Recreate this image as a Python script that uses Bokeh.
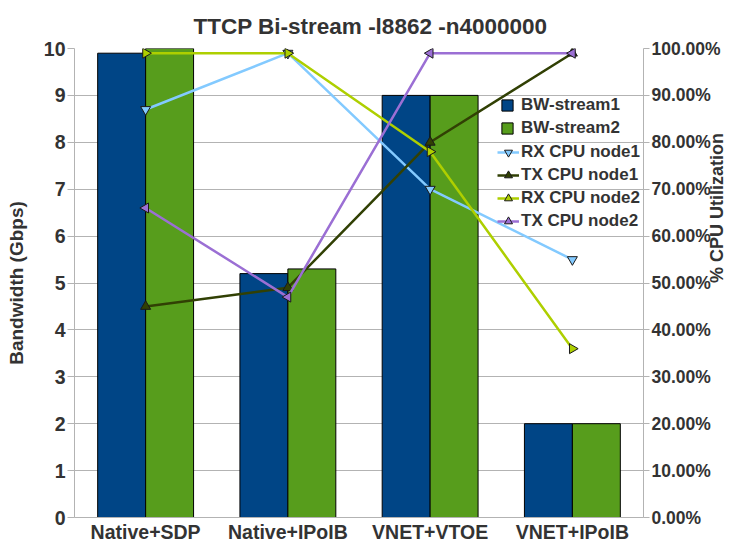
import math
from bokeh.plotting import figure
from bokeh.models import (Range1d, FactorRange, LinearAxis, SingleIntervalTicker,
                          PrintfTickFormatter, Legend, LegendItem, ColumnDataSource)
from bokeh.transform import dodge
from bokeh.embed import file_html
from bokeh.resources import INLINE

categories = ["Native+SDP", "Native+IPoIB", "VNET+VTOE", "VNET+IPoIB"]
bw_stream1 = [9.9, 5.2, 9.0, 2.0]
bw_stream2 = [10.0, 5.3, 9.0, 2.0]
rx_cpu_node1 = [87, 99, 70, 55]
tx_cpu_node1 = [45, 49, 80, 99]
rx_cpu_node2 = [99, 99, 78, 36]
tx_cpu_node2 = [66, 47, 99, 99]

TXT = "#333333"
GRID = "#b3b3b3"
FONT = "Liberation Sans"

src = ColumnDataSource(dict(cat=categories, bw1=bw_stream1, bw2=bw_stream2,
                            rx1=rx_cpu_node1, tx1=tx_cpu_node1,
                            rx2=rx_cpu_node2, tx2=tx_cpu_node2))

p = figure(width=739, height=546,
           x_range=FactorRange(*categories, range_padding=0),
           y_range=Range1d(0, 10),
           output_backend="svg", toolbar_location=None,
           min_border_left=74, min_border_right=89, min_border_top=48, min_border_bottom=29,
           title="TTCP Bi-stream -l8862 -n4000000")
p.outline_line_color = None
p.background_fill_color = "white"
p.border_fill_color = "white"

p.title.text_font = FONT
p.title.text_font_size = "22.5px"
p.title.text_font_style = "bold"
p.title.text_color = TXT
p.title.align = "left"
p.title.offset = 119
p.title.standoff = 20

p.extra_y_ranges = {"cpu": Range1d(0, 100)}

# grid
p.xgrid.grid_line_color = None
p.ygrid.grid_line_color = GRID
p.ygrid.grid_line_width = 1

# left axis
ya = p.yaxis[0]
ya.ticker = SingleIntervalTicker(interval=1)
ya.axis_label = "Bandwidth (Gbps)"
ya.axis_label_text_font = FONT
ya.axis_label_text_font_size = "19px"
ya.axis_label_text_font_style = "bold"
ya.axis_label_text_color = TXT
ya.axis_label_standoff = 14
ya.major_label_text_font = FONT
ya.major_label_text_font_size = "19.5px"
ya.major_label_text_font_style = "bold"
ya.major_label_text_color = TXT
ya.major_label_standoff = 2
ya.axis_line_color = GRID
ya.major_tick_line_color = GRID
ya.major_tick_out = 7
ya.major_tick_in = 0
ya.minor_tick_line_color = None

# x axis
xa = p.xaxis[0]
xa.major_label_text_font = FONT
xa.major_label_text_font_size = "19.5px"
xa.major_label_text_font_style = "bold"
xa.major_label_text_color = TXT
xa.major_label_standoff = 3
xa.axis_line_color = GRID
xa.major_tick_line_color = None
xa.major_tick_out = 0
xa.minor_tick_line_color = None

# right axis
ra = LinearAxis(y_range_name="cpu", ticker=SingleIntervalTicker(interval=10),
                formatter=PrintfTickFormatter(format="%.2f%%"))
ra.axis_label = "% CPU Utilization"
ra.axis_label_text_font = FONT
ra.axis_label_text_font_size = "18px"
ra.axis_label_text_font_style = "bold"
ra.axis_label_text_color = TXT
ra.axis_label_standoff = -7
try:
    ra.axis_label_orientation = math.pi / 2
except Exception:
    pass
ra.major_label_text_font = FONT
ra.major_label_text_font_size = "17.5px"
ra.major_label_text_font_style = "bold"
ra.major_label_text_color = TXT
ra.major_label_standoff = 2
ra.axis_line_color = GRID
ra.major_tick_line_color = GRID
ra.major_tick_out = 6
ra.major_tick_in = 0
ra.minor_tick_line_color = None
p.add_layout(ra, "right")

# bars
bw = 0.337
b1 = p.vbar(x=dodge("cat", -bw / 2, range=p.x_range), top="bw1", width=bw, source=src,
            fill_color="#004586", line_color="#000000", line_width=1)
b2 = p.vbar(x=dodge("cat", bw / 2, range=p.x_range), top="bw2", width=bw, source=src,
            fill_color="#579d1c", line_color="#000000", line_width=1)

series = [
    ("RX CPU node1", "rx1", "#83caff", "inverted_triangle", 0.0),
    ("TX CPU node1", "tx1", "#314004", "triangle", 0.0),
    ("RX CPU node2", "rx2", "#aecf00", "triangle", -math.pi / 2),
    ("TX CPU node2", "tx2", "#9b6fd4", "triangle", math.pi / 2),
]
line_items = []
for label, col, color, marker, ang in series:
    lr = p.line(x="cat", y=col, source=src, y_range_name="cpu",
                line_color=color, line_width=2.5)
    sr = p.scatter(x="cat", y=col, source=src, y_range_name="cpu",
                   marker=marker, angle=ang, size=10,
                   fill_color=color, line_color="#1a1a1a", line_width=1)
    line_items.append(LegendItem(label=label, renderers=[lr, sr]))

leg1 = Legend(items=[LegendItem(label="BW-stream1", renderers=[b1]),
                     LegendItem(label="BW-stream2", renderers=[b2])],
              location=(426, 379), orientation="vertical",
              glyph_width=14, glyph_height=14, label_height=20, spacing=3,
              label_standoff=7, padding=0, margin=0,
              background_fill_alpha=0, border_line_color=None,
              label_text_font=FONT, label_text_font_size="17px",
              label_text_font_style="bold", label_text_color=TXT)
leg2 = Legend(items=line_items,
              location=(423, 286), orientation="vertical",
              glyph_width=22, glyph_height=20, label_height=20, spacing=3,
              label_standoff=2, padding=0, margin=0,
              background_fill_alpha=0, border_line_color=None,
              label_text_font=FONT, label_text_font_size="17px",
              label_text_font_style="bold", label_text_color=TXT)
p.add_layout(leg1, "center")
p.add_layout(leg2, "center")

open("out.html", "w").write(file_html(p, INLINE))
